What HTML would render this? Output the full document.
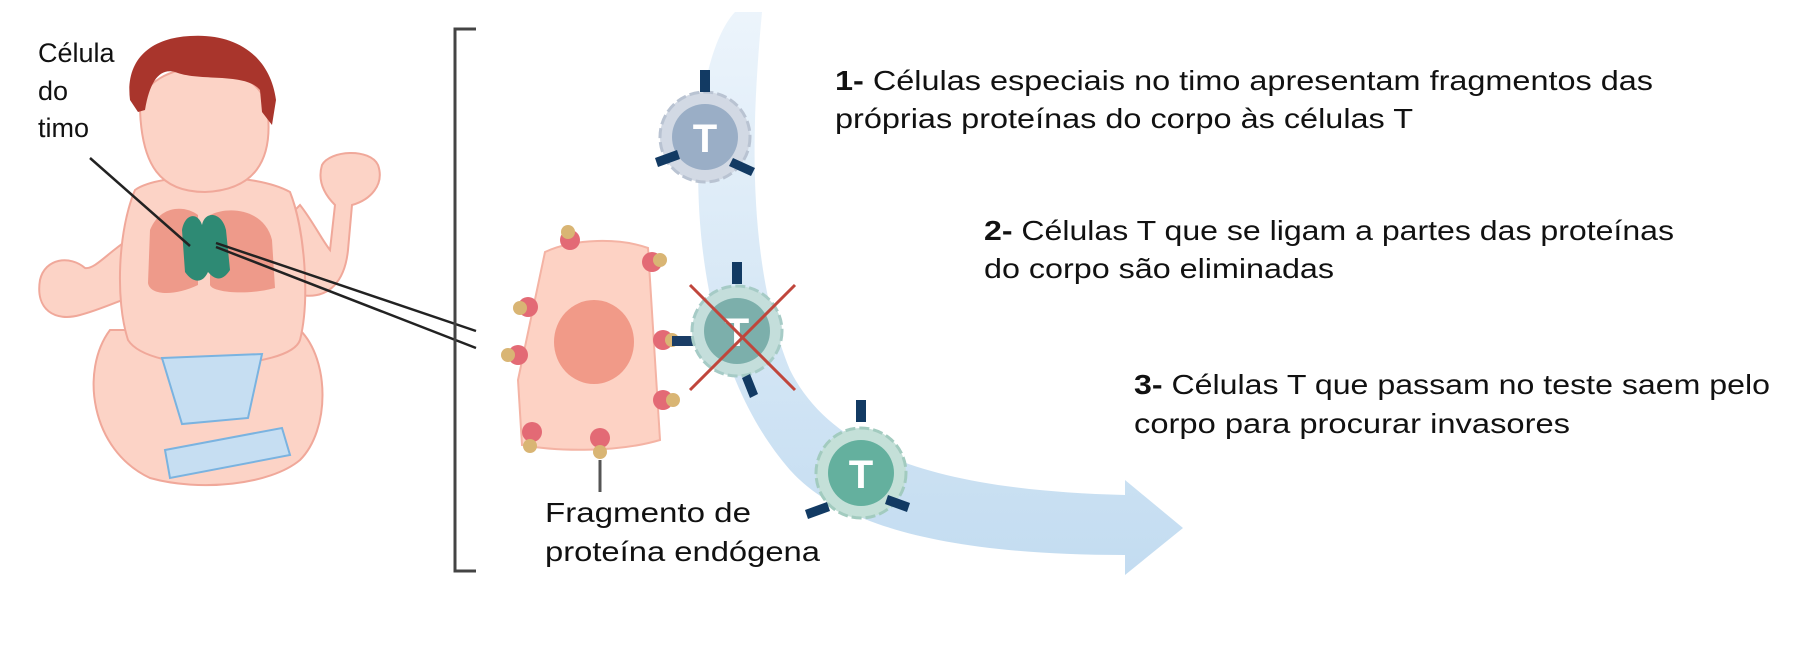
<!DOCTYPE html>
<html><head><meta charset="utf-8"><style>
html,body{margin:0;padding:0;background:#fff;}
svg{display:block;}
text{font-family:"Liberation Sans",sans-serif;fill:#111;}
</style></head><body>
<svg width="1819" height="652" viewBox="0 0 1819 652" xmlns="http://www.w3.org/2000/svg">
<defs>
<linearGradient id="band" x1="0" y1="0" x2="0" y2="1">
<stop offset="0" stop-color="#eaf3fb"/><stop offset="1" stop-color="#bcd8ef"/>
</linearGradient>
</defs>
<!-- band arrow -->
<path d="M735,12 L762,12 C752,120 745,260 790,370 C830,450 930,490 1125,495 L1125,480 L1183,528 L1125,575 L1125,555 C930,555 835,520 790,470 C720,390 690,260 700,120 C705,70 718,30 735,12 Z" fill="url(#band)" opacity="0.9"/>

<!-- baby -->
<g stroke="#f0a89a" stroke-width="2" fill="#fcd3c6">
<!-- legs -->
<path d="M110,330 C80,370 90,450 150,478 C200,492 270,485 300,460 C330,430 330,360 300,330 Z"/>
<!-- left arm -->
<path d="M135,235 C110,250 95,270 85,268 C70,255 45,258 40,280 C35,310 55,322 80,315 C100,310 120,300 150,290 Z"/>
<!-- right arm -->
<path d="M290,215 C305,240 305,270 300,295 C330,300 345,280 348,250 L352,205 C370,200 385,185 378,165 C370,148 330,150 322,165 C316,185 330,200 335,205 L330,250 C322,240 312,220 300,205 Z"/>
<!-- torso -->
<path d="M135,190 C160,172 255,172 290,192 C305,230 310,300 300,340 C290,370 150,375 128,340 C115,300 118,230 135,190 Z"/>
<!-- head -->
<path d="M140,110 C140,55 265,50 268,115 C272,160 255,190 205,192 C160,192 142,165 140,110 Z"/>
</g>
<path d="M130,100 C125,60 150,38 190,36 C235,33 270,55 276,100 L272,125 L262,112 L260,90 C245,72 200,82 175,72 C160,68 150,80 145,110 L138,112 Z" fill="#a9352c"/>
<path d="M162,358 L262,354 L248,418 L182,424 Z" fill="#c6def2" stroke="#7ab3e0" stroke-width="2"/>
<path d="M165,450 L282,428 L290,455 L170,478 Z" fill="#c6def2" stroke="#7ab3e0" stroke-width="2"/>
<path d="M150,230 C160,205 185,205 198,215 L198,285 C175,296 150,296 148,283 Z" fill="#ee9a8a"/>
<path d="M210,215 C230,205 265,210 272,240 L275,288 C245,296 212,292 210,285 Z" fill="#ee9a8a"/>
<path d="M182,230 C185,213 198,212 202,225 C205,210 222,212 226,230 L230,270 C222,282 215,280 208,272 C202,285 192,282 185,272 Z" fill="#2e8a74"/>
<line x1="90" y1="158" x2="190" y2="246" stroke="#222" stroke-width="2.5"/>
<line x1="216" y1="243" x2="476" y2="331" stroke="#222" stroke-width="2.5"/>
<line x1="216" y1="247" x2="476" y2="348" stroke="#222" stroke-width="2.5"/>
<text x="38" y="62" font-size="27">Célula</text>
<text x="38" y="100" font-size="27">do</text>
<text x="38" y="137" font-size="27">timo</text>

<!-- bracket -->
<path d="M476,29 L455,29 L455,571 L476,571" fill="none" stroke="#444" stroke-width="3"/>

<!-- pink cell -->
<path d="M545,252 C575,238 620,238 648,248 L660,440 C620,452 560,452 522,445 L518,380 Z" fill="#fdd2c4" stroke="#f4b3a4" stroke-width="2"/>
<ellipse cx="594" cy="342" rx="40" ry="42" fill="#f19a88"/>
<g fill="#e36a75">
<circle cx="570" cy="240" r="10"/><circle cx="652" cy="262" r="10"/><circle cx="528" cy="307" r="10"/>
<circle cx="518" cy="355" r="10"/><circle cx="663" cy="340" r="10"/><circle cx="663" cy="400" r="10"/>
<circle cx="532" cy="432" r="10"/><circle cx="600" cy="438" r="10"/>
</g>
<g fill="#d9b574">
<circle cx="568" cy="232" r="7"/><circle cx="660" cy="260" r="7"/><circle cx="520" cy="308" r="7"/>
<circle cx="508" cy="355" r="7"/><circle cx="672" cy="340" r="7"/><circle cx="673" cy="400" r="7"/>
<circle cx="530" cy="446" r="7"/><circle cx="600" cy="452" r="7"/>
</g>
<line x1="600" y1="460" x2="600" y2="492" stroke="#555" stroke-width="3"/>
<rect x="672" y="336" width="28" height="10" fill="#1a3d66"/>

<!-- T cells -->
<g>
<circle cx="705" cy="137" r="45" fill="#d2d9e4" stroke="#b9c3d2" stroke-width="3" stroke-dasharray="10 4"/>
<circle cx="705" cy="137" r="33" fill="#9aaec6"/>
<text x="705" y="152" font-size="40" font-weight="bold" text-anchor="middle" style="fill:#fff">T</text>
<path d="M700,70 h10 v22 h-10z M655,158 l22,-8 l3,9 l-22,8z M733,158 l22,10 l-4,8 l-22,-10z" fill="#123a63"/>
</g>
<g>
<circle cx="737" cy="331" r="45" fill="#c4dedb" stroke="#a6cbc6" stroke-width="3" stroke-dasharray="10 4"/>
<circle cx="737" cy="331" r="33" fill="#7cafab"/>
<text x="737" y="346" font-size="40" font-weight="bold" text-anchor="middle" style="fill:#fff">T</text>
<path d="M732,262 h10 v22 h-10z M742,378 l8,-4 l8,20 l-8,4z" fill="#123a63"/>
<line x1="690" y1="285" x2="795" y2="390" stroke="#c0463c" stroke-width="3"/>
<line x1="795" y1="285" x2="690" y2="390" stroke="#c0463c" stroke-width="3"/>
</g>
<g>
<circle cx="861" cy="473" r="45" fill="#c4e0d8" stroke="#a2cbbf" stroke-width="3" stroke-dasharray="10 4"/>
<circle cx="861" cy="473" r="33" fill="#64b09e"/>
<text x="861" y="488" font-size="40" font-weight="bold" text-anchor="middle" style="fill:#fff">T</text>
<path d="M856,400 h10 v22 h-10z M805,510 l22,-8 l3,9 l-22,8z M888,495 l22,8 l-3,9 l-22,-8z" fill="#123a63"/>
</g>

<!-- labels -->
<text x="545" y="522" font-size="28" textLength="206" lengthAdjust="spacingAndGlyphs">Fragmento de</text>
<text x="545" y="561" font-size="28" textLength="275" lengthAdjust="spacingAndGlyphs">proteína endógena</text>

<text x="835" y="90" font-size="28" textLength="818" lengthAdjust="spacingAndGlyphs"><tspan font-weight="bold">1-</tspan> Células especiais no timo apresentam fragmentos das</text>
<text x="835" y="128" font-size="28" textLength="578" lengthAdjust="spacingAndGlyphs">próprias proteínas do corpo às células T</text>
<text x="984" y="240" font-size="28" textLength="690" lengthAdjust="spacingAndGlyphs"><tspan font-weight="bold">2-</tspan> Células T que se ligam a partes das proteínas</text>
<text x="984" y="278" font-size="28" textLength="350" lengthAdjust="spacingAndGlyphs">do corpo são eliminadas</text>
<text x="1134" y="394" font-size="28" textLength="636" lengthAdjust="spacingAndGlyphs"><tspan font-weight="bold">3-</tspan> Células T que passam no teste saem pelo</text>
<text x="1134" y="433" font-size="28" textLength="436" lengthAdjust="spacingAndGlyphs">corpo para procurar invasores</text>
</svg>
</body></html>
